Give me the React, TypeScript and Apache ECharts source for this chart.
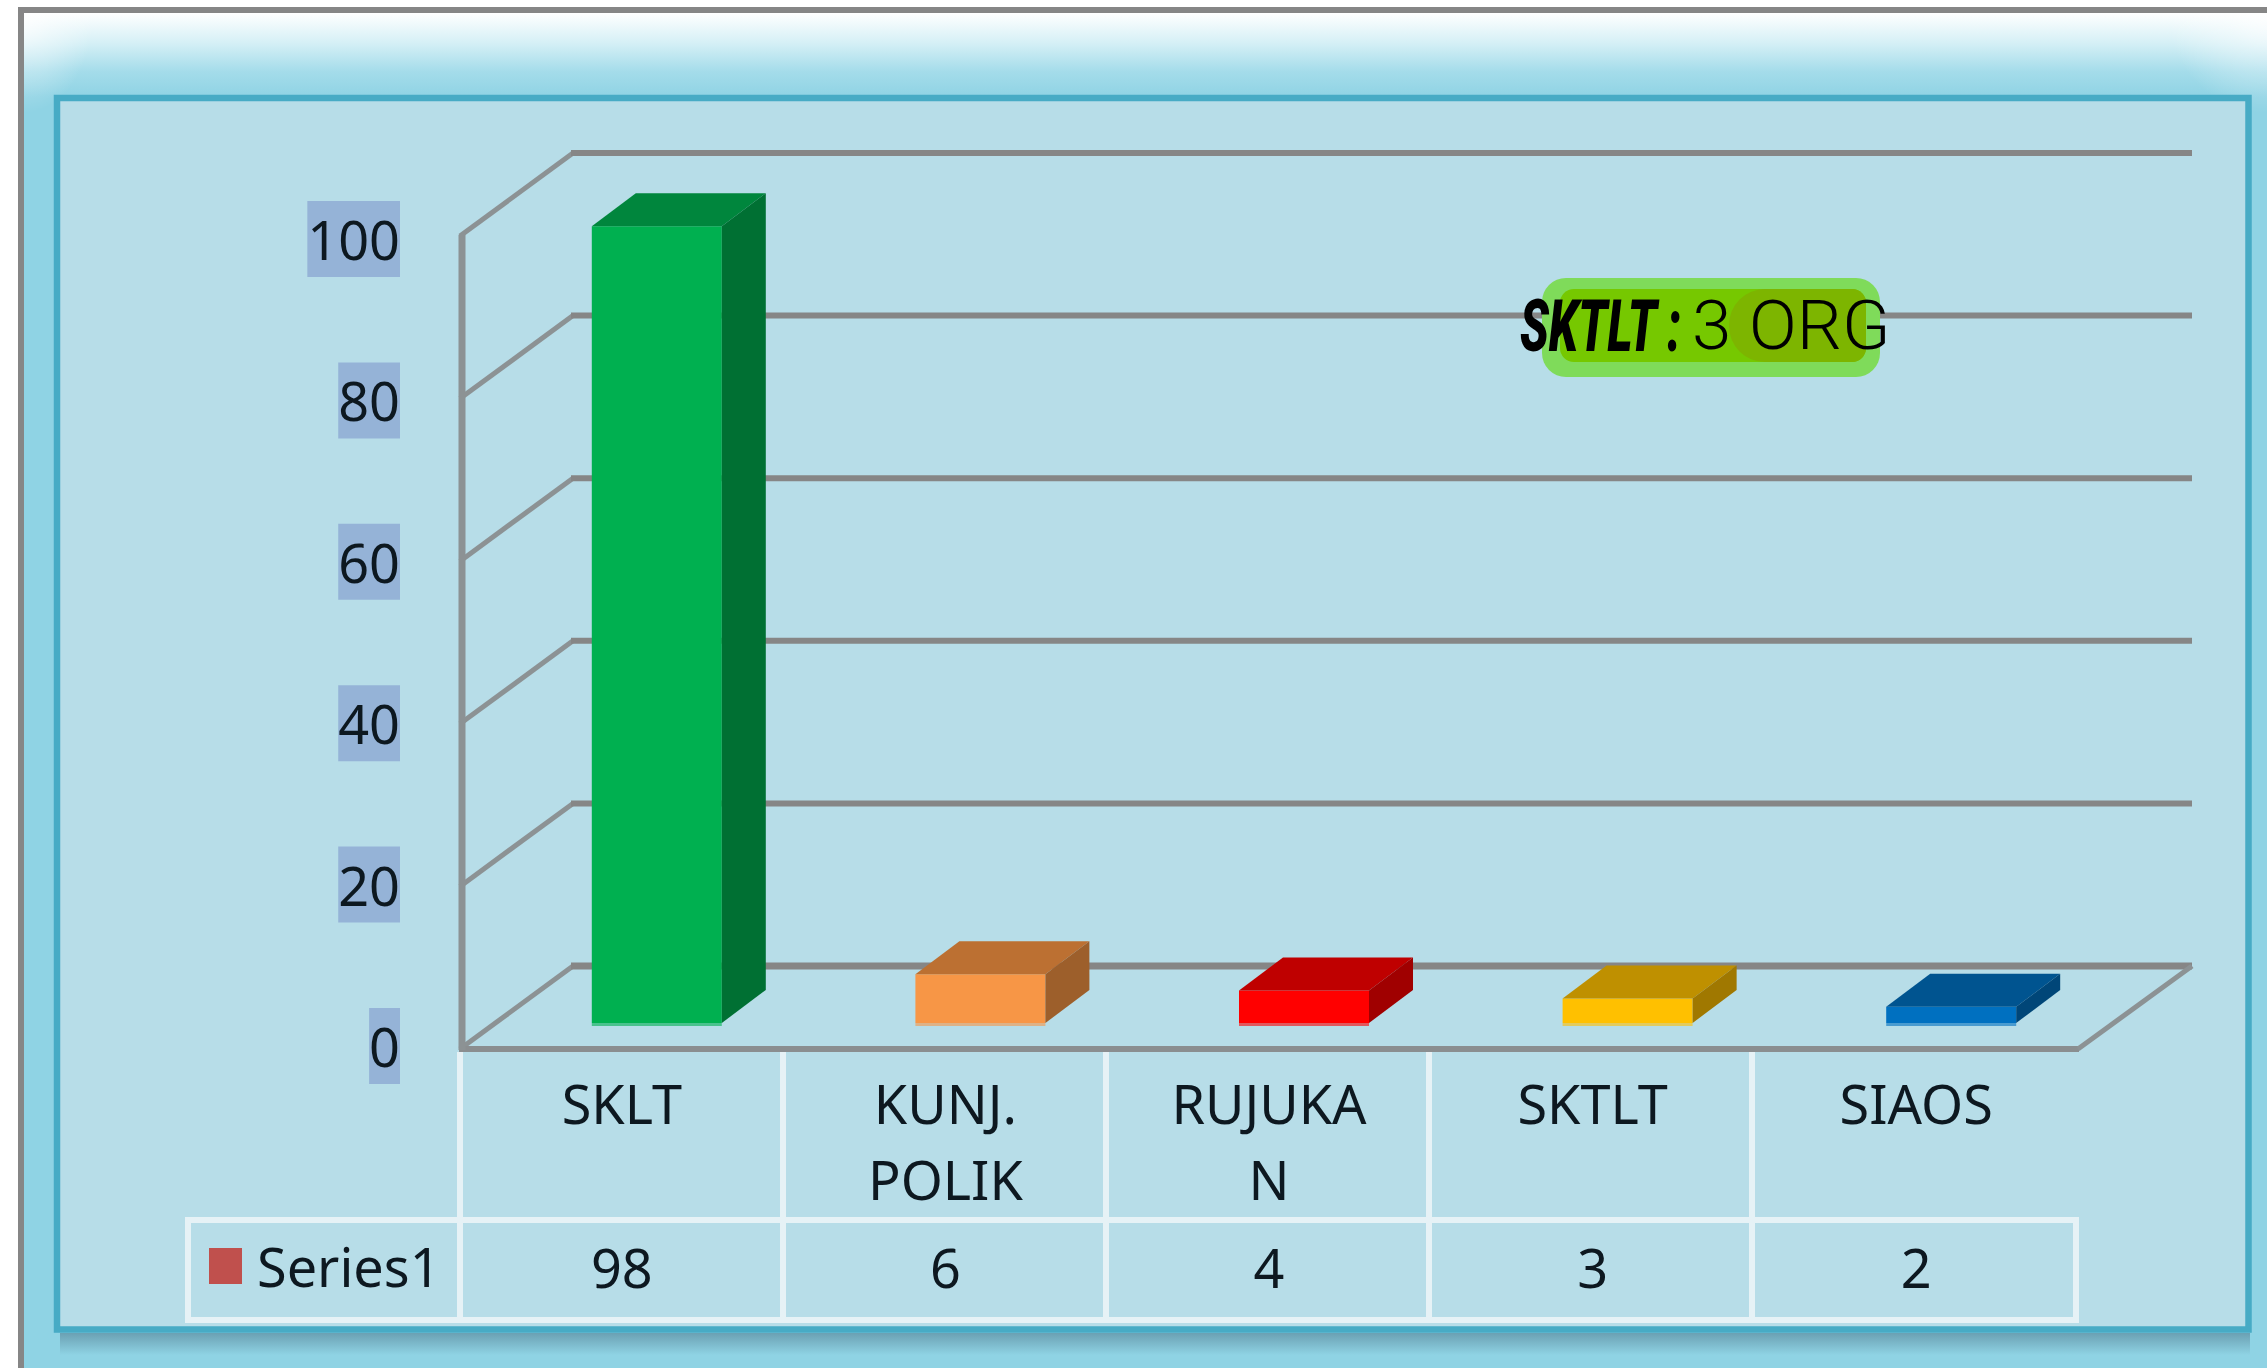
import React, { useEffect, useRef } from "react";
import * as echarts from "echarts";

const W = 2267;
const H = 1368;

const categories = ["SKLT", "KUNJ.\nPOLIK", "RUJUKA\nN", "SKTLT", "SIAOS"];
const values = [98, 6, 4, 3, 2];
const yTicks = [0, 20, 40, 60, 80, 100];
const seriesName = "Series1";
const noteBold = "SKTLT :";
const noteLight = "3 ORG";

const barFaces = [
  { front: "#00B050", top: "#00863D", side: "#007033" },
  { front: "#F79646", top: "#BC7032", side: "#9D5F2B" },
  { front: "#FF0000", top: "#BF0000", side: "#A00000" },
  { front: "#FFC000", top: "#BF9000", side: "#A07800" },
  { front: "#0070C0", top: "#005490", side: "#004678" },
];

const FONT = "'Noto Sans'";
const TEXT = "#0d1820";
const WALL = "#868686";
const TABLE = "#e6f2f6";
const FS = 54;

const GRID = { left: 460, top: 236, width: 1618, height: 813 };
const TABLE_W = 1615;
const WALL_DX = 111;
const WALL_DY = -83;
const BAR_OFF_X = 35;
const BAR_OFF_Y = -26;
const BAR_W = 130;
const BAR_DX = 44;
const BAR_DY = -33;

const line = (x1: number, y1: number, x2: number, y2: number, color: string, width: number) => ({
  type: "line",
  shape: { x1, y1, x2, y2 },
  style: { stroke: color, lineWidth: width, lineCap: "butt" },
  silent: true,
});

const renderWall = (params: any, api: any) => {
  const cs = params.coordSys;
  const y = api.coord([0, api.value(1)])[1];
  const x0 = cs.x;
  const x1 = cs.x + cs.width;
  const isFloor = api.value(1) === 0;
  const children: any[] = [
    line(x0, y, x0 + WALL_DX + 2, y + WALL_DY, "#8c9294", 5),
    line(x0 + WALL_DX, y + WALL_DY, x1 + WALL_DX + 3, y + WALL_DY, WALL, isFloor ? 7 : 6),
  ];
  if (isFloor) {
    children.push(line(x0 - 1, y, x1 + 1, y, "#8a8e90", 6));
    children.push(line(x1, y, x1 + WALL_DX + 3, y + WALL_DY, "#8c9294", 5));
  }
  if (api.value(1) === 100) {
    children.push(line(x0 + 2, y - 1, x0 + 2, y + cs.height + 1, "#8c9294", 7));
  }
  return { type: "group", children };
};

const renderBar = (params: any, api: any) => {
  const i = api.value(0);
  const c = barFaces[i];
  const cx = api.coord([i, 0])[0];
  const base = api.coord([i, 0])[1];
  const top = api.coord([i, api.value(1)])[1];
  const l = cx + BAR_OFF_X - BAR_W / 2;
  const r = l + BAR_W;
  const b = base + BAR_OFF_Y;
  const t = top + BAR_OFF_Y;
  const poly = (points: number[][], fill: string, opacity = 1) => ({
    type: "polygon",
    shape: { points },
    style: { fill, opacity },
  });
  return {
    type: "group",
    children: [
      poly([[l, b], [r, b], [r, b + 3], [l, b + 3]], c.front, 0.6),
      poly([[l, b], [r, b], [r, t], [l, t]], c.front),
      poly([[l, t], [r, t], [r + BAR_DX, t + BAR_DY], [l + BAR_DX, t + BAR_DY]], c.top),
      poly([[r, b], [r + BAR_DX, b + BAR_DY], [r + BAR_DX, t + BAR_DY], [r, t]], c.side),
    ],
  };
};

const renderTableColumn = (params: any, api: any) => {
  const cs = params.coordSys;
  const x = cs.x + (TABLE_W / categories.length) * api.value(0);
  return line(x, cs.y + cs.height + 3, x, 1323, TABLE, 6);
};

export default function App() {
  const ref = useRef<HTMLDivElement>(null);

  useEffect(() => {
    document.body.style.margin = "0";
    document.documentElement.style.overflow = "hidden";
    const chart = echarts.init(ref.current!, undefined, { renderer: "svg" });
    const vGrad = (stops: [number, string][]) => ({
      type: "linear",
      x: 0,
      y: 0,
      x2: 0,
      y2: 1,
      colorStops: stops.map(([offset, color]) => ({ offset, color })),
    });
    const cornerFade = (x: number) => ({
      type: "radial",
      x,
      y: 0,
      r: 1,
      colorStops: [
        { offset: 0, color: "rgba(255,255,255,0.8)" },
        { offset: 0.4, color: "rgba(255,255,255,0.4)" },
        { offset: 1, color: "rgba(255,255,255,0)" },
      ],
    });
    chart.setOption({
      animation: false,
      backgroundColor: "#ffffff",
      graphic: {
        elements: [
          { type: "rect", z: -20, silent: true, shape: { x: 24, y: 13, width: W - 24, height: H - 13 }, style: { fill: "#8FD3E4" } },
          {
            type: "rect", z: -19, silent: true, shape: { x: 24, y: 13, width: W - 24, height: 84 },
            style: { fill: vGrad([[0, "#ffffff"], [0.35, "#d6f0f6"], [0.7, "#a4dcea"], [1, "#8FD3E4"]]) },
          },
          { type: "rect", z: -18, silent: true, shape: { x: 24, y: 13, width: 70, height: 100 }, style: { fill: cornerFade(0) } },
          { type: "rect", z: -18, silent: true, shape: { x: 2167, y: 13, width: 100, height: 100 }, style: { fill: cornerFade(1) } },
          { type: "rect", z: -17, silent: true, shape: { x: 18, y: 7, width: W - 18, height: 6 }, style: { fill: "#868686" } },
          { type: "rect", z: -17, silent: true, shape: { x: 18, y: 7, width: 6, height: H - 7 }, style: { fill: "#868686" } },
          {
            type: "rect", z: -16, silent: true, shape: { x: 60, y: 1333, width: 2190, height: 22 },
            style: { fill: vGrad([[0, "rgba(70,110,130,0.5)"], [1, "rgba(70,110,130,0)"]]) },
          },
          {
            type: "rect", z: -15, silent: true, shape: { x: 57, y: 98, width: 2191.5, height: 1231.5 },
            style: { fill: "#B7DDE8", stroke: "#47ABC5", lineWidth: 6.5 },
          },
          { ...line(188, 1220, 2077, 1220, TABLE, 6), z: -1 },
          { ...line(185, 1320, 2079, 1320, TABLE, 6), z: -1 },
          { ...line(188, 1217, 188, 1323, TABLE, 6), z: -1 },
          { ...line(2076, 1217, 2076, 1323, TABLE, 6), z: -1 },
          { type: "rect", z: 100, silent: true, shape: { x: 1542, y: 278, width: 338, height: 99, r: 24 }, style: { fill: "#7FDB5A" } },
          { type: "rect", z: 101, silent: true, shape: { x: 1560, y: 289, width: 306, height: 73, r: 14 }, style: { fill: "#76C800" } },
          { type: "rect", z: 102, silent: true, shape: { x: 1729, y: 289, width: 137, height: 73, r: [36, 14, 14, 36] }, style: { fill: "#7DB500" } },
          {
            type: "text", z: 103, silent: true, x: 1520, y: 326, scaleX: 0.66,
            style: {
              text: noteBold, fill: "#000000", font: `italic 900 72px Roboto`,
              textVerticalAlign: "middle", verticalAlign: "middle",
            },
          },
          {
            type: "text", z: 103, silent: true, x: 1692, y: 325, scaleX: 1.03,
            style: {
              text: noteLight, fill: "#000000", font: `300 69px Roboto`,
              textVerticalAlign: "middle", verticalAlign: "middle",
            },
          },
        ],
      },
      legend: {
        show: true,
        selectedMode: false,
        left: 209,
        top: 1239,
        padding: 0,
        itemWidth: 33,
        itemHeight: 36,
        itemGap: 0,
        icon: "rect",
        data: [{ name: seriesName, itemStyle: { color: "#C0504D" } }],
        textStyle: { fontFamily: FONT, fontSize: FS, color: TEXT, padding: [0, 0, 0, 10] },
      },
      grid: [
        { ...GRID, containLabel: false },
        { left: GRID.left, top: 239, width: GRID.width, height: 807, containLabel: false },
      ],
      xAxis: [
        {
          type: "category",
          gridIndex: 0,
          data: categories,
          axisLine: { show: false },
          axisTick: { show: false },
          splitLine: { show: false },
          axisLabel: {
            interval: 0,
            margin: 16,
            fontFamily: FONT,
            fontSize: FS,
            lineHeight: 76,
            color: TEXT,
            verticalAlign: "top",
          },
        },
        {
          type: "category",
          gridIndex: 0,
          position: "bottom",
          offset: 171,
          data: values.map(String),
          axisLine: { show: false },
          axisTick: { show: false },
          splitLine: { show: false },
          axisLabel: {
            interval: 0,
            margin: 9,
            fontFamily: FONT,
            fontSize: FS,
            lineHeight: 76,
            color: TEXT,
            verticalAlign: "top",
          },
        },
        { type: "category", gridIndex: 1, data: categories, show: false },
      ],
      yAxis: [
        {
          type: "value",
          gridIndex: 0,
          min: 0,
          max: 100,
          interval: 20,
          axisLine: { show: false },
          axisTick: { show: false },
          splitLine: { show: false },
          axisLabel: { show: false },
        },
        {
          type: "value",
          gridIndex: 1,
          min: 0,
          max: 100,
          interval: 20,
          axisLine: { show: false },
          axisTick: { show: false },
          splitLine: { show: false },
          axisLabel: {
            margin: 60,
            fontFamily: FONT,
            fontSize: FS,
            lineHeight: 76,
            color: TEXT,
            backgroundColor: "#95B3D7",
          },
        },
      ],
      series: [
        {
          type: "custom",
          name: "walls",
          xAxisIndex: 0,
          yAxisIndex: 0,
          z: 1,
          silent: true,
          clip: false,
          renderItem: renderWall,
          encode: { x: 0, y: 1 },
          data: yTicks.map((t) => [0, t]),
        },
        {
          type: "custom",
          name: "table",
          xAxisIndex: 0,
          yAxisIndex: 0,
          z: 1,
          silent: true,
          clip: false,
          renderItem: renderTableColumn,
          encode: { x: 0, y: 1 },
          data: [0, 1, 2, 3, 4].map((i) => [i, 0]),
        },
        {
          type: "custom",
          name: seriesName,
          xAxisIndex: 0,
          yAxisIndex: 0,
          z: 3,
          silent: true,
          clip: false,
          renderItem: renderBar,
          encode: { x: 0, y: 1 },
          data: values.map((v, i) => [i, v]),
        },
      ],
    });
    return () => chart.dispose();
  }, []);

  return <div ref={ref} style={{ width: W, height: H }} />;
}
